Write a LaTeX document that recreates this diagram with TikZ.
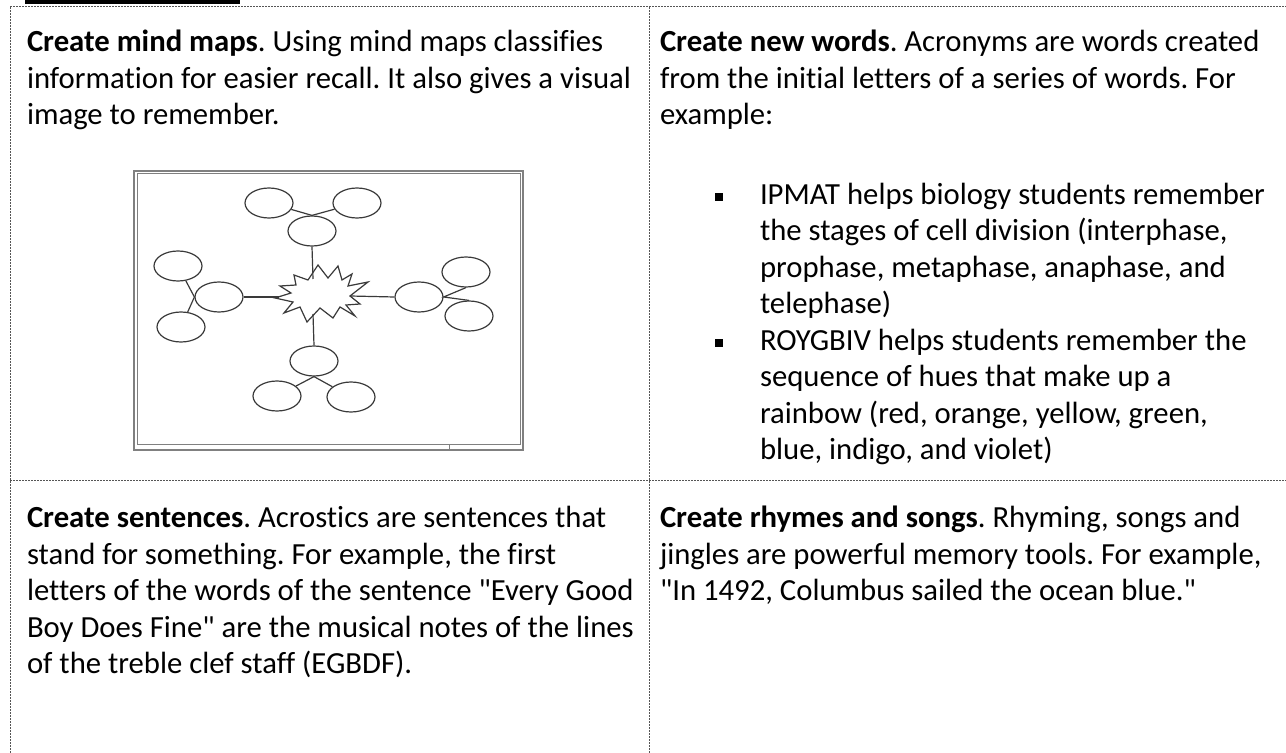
\documentclass[tikz,border=0pt]{standalone}
\usepackage{fontspec}
\setmainfont{Carlito}[Ligatures={TeXOff,NoCommon}]
\usetikzlibrary{shapes.geometric}
\definecolor{rule}{HTML}{555555}
\definecolor{framegray}{HTML}{808080}
\definecolor{inkgray}{HTML}{3A3A3A}
\frenchspacing
\begin{document}
\begin{tikzpicture}[x=0.5pt,y=-0.5pt,
  txt/.style={anchor=base west,inner sep=0pt,outer sep=0pt,font=\fontsize{15.35}{18.4}\selectfont},
  cellrule/.style={draw=rule,line width=0.5pt,dash pattern=on 1pt off 0.5pt},
  bulletsq/.style={fill=black,inner sep=0pt,minimum size=3.9pt},
  bubble/.style={ellipse,draw=inkgray,line width=0.6pt,minimum width=24pt,minimum height=15pt,inner sep=0pt},
  link/.style={draw=inkgray,line width=0.6pt}]
\useasboundingbox (0,0) rectangle (1286,753);

% heading underline at the top edge
\fill[black] (25,0) rectangle (240,4);

% dashed cell borders
\draw[cellrule] (10,7) -- (1286,7);
\draw[cellrule] (10,7) -- (10,753);
\draw[cellrule] (649,7) -- (649,753);
\draw[cellrule] (10,481) -- (1286,481);

% top-left cell
\node[txt] (l1) at (27,52) {\textbf{Create mind maps}. Using mind maps classifies};
\node[txt] (l2) at (27,89) {information for easier recall. It also gives a visual};
\node[txt] (l3) at (27,125) {image to remember.};

% top-right cell
\node[txt] (r1) at (660,52) {\textbf{Create new words}. Acronyms are words created};
\node[txt] (r2) at (660,89) {from the initial letters of a series of words. For};
\node[txt] (r3) at (660,125) {example:};
\node[bulletsq] (b1) at (719,197) {};
\node[txt] (r4) at (760,205) {IPMAT helps biology students remember};
\node[txt] (r5) at (760,241) {the stages of cell division (interphase,};
\node[txt] (r6) at (760,278) {prophase, metaphase, anaphase, and};
\node[txt] (r7) at (760,314) {telephase)};
\node[bulletsq] (b2) at (719,343) {};
\node[txt] (r8) at (760,351) {ROYGBIV helps students remember the};
\node[txt] (r9) at (760,387) {sequence of hues that make up a};
\node[txt] (r10) at (760,424) {rainbow (red, orange, yellow, green,};
\node[txt] (r11) at (760,460) {blue, indigo, and violet)};

% bottom-left cell
\node[txt] (s1) at (27,528) {\textbf{Create sentences}. Acrostics are sentences that};
\node[txt] (s2) at (27,565) {stand for something. For example, the first};
\node[txt] (s3) at (27,601) {letters of the words of the sentence "Every Good};
\node[txt] (s4) at (27,638) {Boy Does Fine" are the musical notes of the lines};
\node[txt] (s5) at (27,674) {of the treble clef staff (EGBDF).};

% bottom-right cell
\node[txt] (m1) at (660,528) {\textbf{Create rhymes and songs}. Rhyming, songs and};
\node[txt] (m2) at (660,565) {jingles are powerful memory tools. For example,};
\node[txt] (m3) at (660,601) {"In 1492, Columbus sailed the ocean blue."};

% mind-map picture frame (thin double rule)
\draw[framegray,line width=0.8pt] (134,171) rectangle (523,450);
\draw[framegray,line width=0.5pt] (137,174) rectangle (520,445);
\draw[framegray,line width=0.5pt] (449,445) -- (449,450);

% central starburst
\draw[inkgray,line width=0.6pt,fill=white]
  (275,298) -- (291,293) -- (280,286) -- (296,285) -- (294,275) -- (308,280)
  -- (318,265) -- (328,278) -- (338,266) -- (342,280) -- (352,274) -- (348,286)
  -- (368,282) -- (350,296) -- (360,304) -- (346,305) -- (355,316) -- (340,307)
  -- (333,318) -- (320,308) -- (307,322) -- (300,307) -- (284,313) -- (293,302)
  -- cycle;
\coordinate (sN) at (313,279);
\coordinate (sS) at (313,314);
\coordinate (sW) at (279,297);
\coordinate (sE) at (350,296);

% bubbles
\node[bubble] (tl) at (269,203) {};
\node[bubble] (tr) at (357,203) {};
\node[bubble] (tm) at (312,231) {};
\node[bubble] (ml) at (219,297) {};
\node[bubble] (lt) at (178,266) {};
\node[bubble] (lb) at (181,327) {};
\node[bubble] (mr) at (419,297) {};
\node[bubble] (rt) at (466,272) {};
\node[bubble] (rb) at (469,316) {};
\node[bubble] (bm) at (314,361) {};
\node[bubble] (bl) at (277,396) {};
\node[bubble] (br) at (351,397) {};

% links
\draw[link] (tl) -- (tm.north) -- (tr);
\draw[link] (tm.south) -- (sN);
\draw[link] (lt) -- (ml.west) -- (lb);
\draw[link] (ml.east) -- (sW);
\draw[link] (sE) -- (mr.west);
\draw[link] (rt.south) -- (mr.east) -- (rb.north);
\draw[link] (sS) -- (bm.north);
\draw[link] (bl) -- (bm.south) -- (br);
\end{tikzpicture}
\end{document}
